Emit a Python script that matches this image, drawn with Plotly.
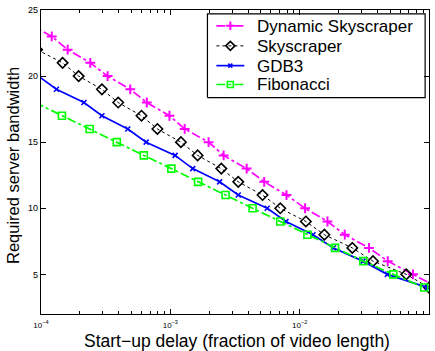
import plotly.graph_objects as go

# log10 of start-up delay (fraction of video length) and required bandwidth
ds_logx = [-4.10, -3.917, -3.794, -3.619, -3.485, -3.310, -3.182, -3.007, -2.889, -2.704,
           -2.588, -2.410, -2.274, -2.102, -1.958, -1.785, -1.651, -1.464, -1.319, -1.124, -0.93]
ds_bw = [24, 23, 22, 21, 20, 19, 18, 17, 16, 15, 14, 13, 12, 11, 10, 9, 8, 7, 6, 5, 4]

sky_logx = [-4.03, -3.833, -3.709, -3.529, -3.403, -3.223, -3.100, -2.918, -2.789, -2.606,
            -2.475, -2.287, -2.150, -1.952, -1.809, -1.593, -1.433, -1.176, -1.0]
sky_bw = [22, 21, 20, 19, 18, 17, 16, 15, 14, 13, 12, 11, 10, 9, 8, 7, 6, 5, 4]

gdb_logx = [-4.02, -3.881, -3.668, -3.529, -3.329, -3.187, -2.963, -2.827, -2.619, -2.475,
            -2.251, -2.106, -1.897, -1.739, -1.510, -1.322, -1.01]
gdb_bw = [20, 19, 18, 17, 16, 15, 14, 13, 12, 11, 10, 9, 8, 7, 6, 5, 4]

fib_logx = [-4.046, -3.838, -3.624, -3.414, -3.205, -2.992, -2.785, -2.573, -2.364, -2.150,
            -1.940, -1.726, -1.508, -1.276, -1.037]
fib_bw = [18, 17, 16, 15, 14, 13, 12, 11, 10, 9, 8, 7, 6, 5, 4]

series_names = ["Dynamic Skyscraper", "Skyscraper", "GDB3", "Fibonacci"]

x_tick_vals = [1e-4, 1e-3, 1e-2, 1e-1]
x_tick_text = ["10<sup>−4</sup>", "10<sup>−3</sup>", "10<sup>−2</sup>", "10<sup>−1</sup>"]
y_tick_vals = [5, 10, 15, 20, 25]
minor_vals = [m * 10 ** e for e in (-4, -3, -2) for m in range(2, 10)]

x_title = "Start−up delay (fraction of video length)"
y_title = "Required server bandwidth"

FONT = "Liberation Sans, Arial, sans-serif"

styles = [
    dict(color="#FF00FF", dash="dashdot", width=1.7, symbol="cross-thin-open", size=7, mlw=2),
    dict(color="#000000", dash="dot", width=1.0, symbol="diamond-open", size=8, mlw=1.6),
    dict(color="#0000FF", dash="solid", width=1.7, symbol="x-thin-open", size=5, mlw=1.6),
    dict(color="#00FF00", dash="dashdot", width=1.7, symbol="square-open", size=7, mlw=1.6),
]
data = [(ds_logx, ds_bw), (sky_logx, sky_bw), (gdb_logx, gdb_bw), (fib_logx, fib_bw)]

fig = go.Figure()
for name, (lx, bw), st in zip(series_names, data, styles):
    fig.add_trace(go.Scatter(
        x=[10 ** v for v in lx], y=bw, name=name, mode="lines+markers", showlegend=False,
        line=dict(color=st["color"], width=st["width"], dash=st["dash"]),
        marker=dict(symbol=st["symbol"], size=st["size"], color=st["color"],
                    line=dict(color=st["color"], width=st["mlw"])),
    ))

# custom legend (box, samples, labels) in an overlay axis spanning the plot area (0..1)
leg_x0, leg_x1, leg_y0, leg_y1 = 0.429, 0.990, 0.712, 0.987
row_y = [0.948, 0.882, 0.817, 0.755]
samp_x0, samp_x1, text_x = 0.452, 0.524, 0.555

fig.add_trace(go.Scatter(
    x=[leg_x0, leg_x1, leg_x1, leg_x0, leg_x0], y=[leg_y0, leg_y0, leg_y1, leg_y1, leg_y0],
    mode="lines", fill="toself", fillcolor="white", line=dict(color="black", width=1.2),
    xaxis="x2", yaxis="y2", showlegend=False, hoverinfo="skip"))
for name, st, ry in zip(series_names, styles, row_y):
    fig.add_trace(go.Scatter(
        x=[samp_x0, samp_x1], y=[ry, ry], mode="lines", xaxis="x2", yaxis="y2", showlegend=False,
        line=dict(color=st["color"], width=st["width"], dash=st["dash"]), hoverinfo="skip"))
    fig.add_trace(go.Scatter(
        x=[(samp_x0 + samp_x1) / 2], y=[ry], mode="markers", xaxis="x2", yaxis="y2", showlegend=False,
        marker=dict(symbol=st["symbol"], size=st["size"] - 1, color=st["color"],
                    line=dict(color=st["color"], width=st["mlw"])), hoverinfo="skip"))
    fig.add_annotation(x=text_x, y=ry, xref="paper", yref="paper", text=name, showarrow=False,
                       xanchor="left", yanchor="middle", height=18, borderpad=0,
                       font=dict(size=17, family=FONT, color="black"))

fig.add_annotation(x=0.506, y=-0.088, xref="paper", yref="paper", text=x_title, showarrow=False,
                   xanchor="center", yanchor="middle", font=dict(size=17.5, family=FONT, color="black"))
fig.add_annotation(x=-0.072, y=0.487, xref="paper", yref="paper", text=y_title, showarrow=False,
                   textangle=-90, xanchor="center", yanchor="middle",
                   font=dict(size=16.5, family=FONT, color="black"))

fig.update_layout(
    width=435, height=351,
    margin=dict(l=41, r=5, t=8, b=37),
    paper_bgcolor="white", plot_bgcolor="white",
    font=dict(family=FONT, color="black"),
    showlegend=False,
    xaxis=dict(
        type="log", range=[-4, -1],
        tickmode="array", tickvals=x_tick_vals, ticktext=x_tick_text,
        ticks="inside", ticklen=5, tickcolor="black", ticklabelstandoff=3,
        minor=dict(tickmode="array", tickvals=minor_vals, ticks="inside", ticklen=3, tickcolor="black"),
        showline=True, linecolor="black", linewidth=1.2, mirror="ticks",
        showgrid=False, zeroline=False,
        tickfont=dict(size=8, family=FONT),
    ),
    yaxis=dict(
        range=[2, 25],
        tickmode="array", tickvals=y_tick_vals,
        ticks="inside", ticklen=5, tickcolor="black",
        showline=True, linecolor="black", linewidth=1.2, mirror="ticks",
        showgrid=False, zeroline=False,
        tickfont=dict(size=9, family=FONT),
    ),
    xaxis2=dict(overlaying="x", range=[0, 1], visible=False, fixedrange=True),
    yaxis2=dict(overlaying="y", range=[0, 1], visible=False, fixedrange=True),
)

fig.write_html("out.html", config={"displayModeBar": False},
               post_script="document.body.style.margin='0';")
